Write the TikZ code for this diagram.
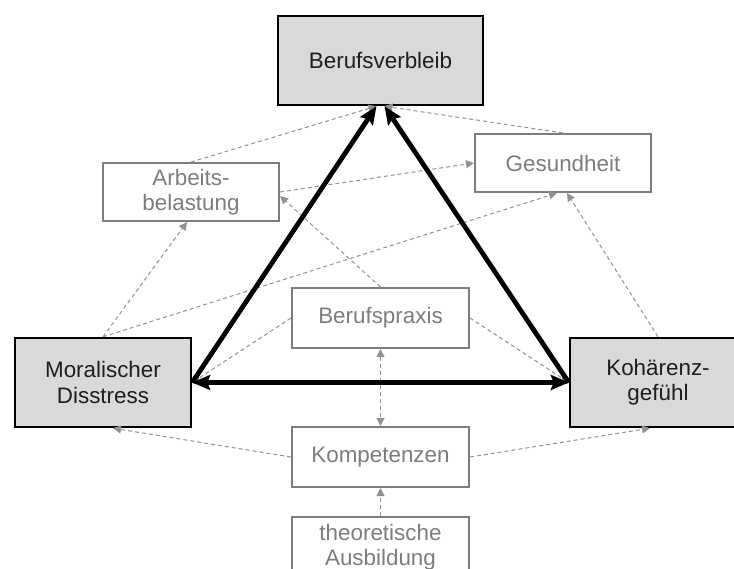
\documentclass[tikz,border=0pt]{standalone}
\usepackage{fontspec}
\setmainfont{Liberation Sans}
\usetikzlibrary{positioning,arrows.meta}
\definecolor{bvGray}{RGB}{125,125,125}
\definecolor{bvFill}{RGB}{217,217,217}
\definecolor{bvDark}{RGB}{30,30,30}
\definecolor{bvDash}{RGB}{145,145,145}
\tikzset{
    base/.style={font=\fontsize{11.2}{12.6}\selectfont, align=center, inner sep=0pt},
    core/.style={base, rectangle, draw=black, line width=1.2pt, fill=bvFill,
                 text=bvDark, minimum width=88pt, minimum height=44.5pt},
    factor/.style={base, rectangle, draw=bvGray, line width=1pt, fill=white,
                   text=bvGray, minimum width=88pt, minimum height=29pt},
    effect/.style={-{Stealth[length=9pt,width=7.5pt,inset=1.5pt]}, line width=2.4pt, color=black},
    link/.style={-{Triangle[length=4pt,width=4pt]}, line width=0.5pt, color=bvDash,
                 dash pattern=on 2pt off 1.5pt}
}
\begin{document}
\begin{tikzpicture}[x=0.5pt, y=-0.5pt]
  \clip (0,0) rectangle (734,568);
  % Outcome and main factors
  \node[core, minimum width=102.5pt] (verbleib) at (380.5,60.5) {Berufsverbleib};
  \node[core] (moral) at (103,382.5) {Moralischer\\Disstress};
  \node[core] (kohaer) at (658,382.5) {Kohärenz-\\gefühl};

  % Secondary factors
  \node[factor] (arbeit) at (191,192) {Arbeits-\\belastung};
  \node[factor] (gesund) at (563,163) {Gesundheit};
  \node[factor, minimum width=88.5pt, minimum height=30pt] (praxis) at (380.5,318) {Berufspraxis};
  \node[factor, minimum width=88.5pt, minimum height=30pt, below=38.5pt of praxis] (kompet) {Kompetenzen};
  \node[factor, minimum width=88.5pt, minimum height=30pt, below=14pt of kompet] (ausbild) {theoretische\\Ausbildung};

  % Dashed links
  \draw[link] (arbeit.north) -- ([xshift=-2pt]verbleib.south);
  \draw[link] (gesund.north) -- ([xshift=2pt]verbleib.south);
  \draw[link] (arbeit.east) -- (gesund.west);
  \draw[link] (moral.north) -- ([xshift=-2pt]arbeit.south);
  \draw[link] (moral.north) -- ([xshift=-3pt]gesund.south);
  \draw[link] (kohaer.north) -- ([xshift=2pt]gesund.south);
  \draw[link] (praxis.north) -- ([yshift=-2pt]arbeit.east);
  \draw[link] (praxis.west) -- (moral.east);
  \draw[link] (praxis.east) -- (kohaer.west);
  \draw[link, {Triangle[length=4pt,width=4pt]}-{Triangle[length=4pt,width=4pt]}] (praxis.south) -- (kompet.north);
  \draw[link] (kompet.west) -- ([xshift=5pt]moral.south);
  \draw[link] (kompet.east) -- ([xshift=-4pt]kohaer.south);
  \draw[link] (ausbild.north) -- (kompet.south);

  % Main effects
  \draw[effect] (moral.east) -- ([xshift=-2pt]verbleib.south);
  \draw[effect] (kohaer.west) -- ([xshift=2pt]verbleib.south);
  \draw[effect, {Stealth[length=9pt,width=7.5pt,inset=1.5pt]}-{Stealth[length=9pt,width=7.5pt,inset=1.5pt]}] (moral.east) -- (kohaer.west);
\end{tikzpicture}
\end{document}
